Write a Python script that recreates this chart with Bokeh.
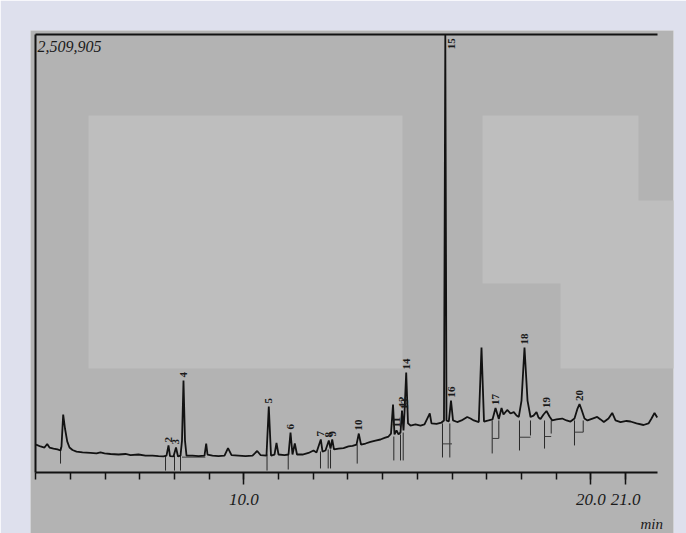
import math
from bokeh.plotting import figure
from bokeh.models import LinearAxis, FixedTicker, Label, Range1d, ColumnDataSource
from bokeh.core.properties import value
from bokeh.embed import file_html
from bokeh.resources import INLINE

# ---------------- data ----------------
FULL_SCALE = 2509905

time_min = [4.012, 4.141, 4.256, 4.334, 4.401, 4.516, 4.631, 4.718, 4.746, 4.795, 4.847, 4.911,
            4.977, 5.063, 5.179, 5.352, 5.582, 5.755, 5.870, 5.986, 6.159, 6.389, 6.591, 6.735,
            6.965, 7.167, 7.369, 7.542, 7.686, 7.772, 7.830, 7.873, 7.974, 8.046, 8.104, 8.176,
            8.219, 8.262, 8.305, 8.349, 8.522, 8.695, 8.867, 8.916, 8.954, 9.098, 9.271, 9.444,
            9.545, 9.646, 9.847, 10.049, 10.251, 10.386, 10.481, 10.654, 10.720, 10.784, 10.885,
            10.942, 11.000, 11.173, 11.288, 11.346, 11.403, 11.470, 11.533, 11.692, 11.865, 12.009,
            12.095, 12.219, 12.268, 12.354, 12.450, 12.499, 12.548, 12.599, 12.729, 12.873, 13.017,
            13.133, 13.248, 13.314, 13.378, 13.507, 13.651, 13.795, 13.939, 14.055, 14.170, 14.242,
            14.300, 14.343, 14.401, 14.458, 14.516, 14.559, 14.602, 14.631, 14.680, 14.732, 14.804,
            14.948, 15.092, 15.207, 15.360, 15.409, 15.553, 15.697, 15.769, 15.807, 15.841, 15.908,
            15.971, 16.029, 16.150, 16.274, 16.438, 16.533, 16.628, 16.772, 16.850, 16.922, 17.052,
            17.167, 17.254, 17.349, 17.427, 17.484, 17.591, 17.686, 17.781, 17.859, 17.925, 18.003,
            18.089, 18.176, 18.262, 18.349, 18.435, 18.493, 18.550, 18.637, 18.723, 18.810, 18.888,
            19.012, 19.176, 19.300, 19.415, 19.530, 19.617, 19.674, 19.732, 19.818, 19.905, 20.049,
            20.184, 20.280, 20.375, 20.510, 20.617, 20.712, 20.856, 21.029, 21.144, 21.317, 21.519,
            21.663, 21.749, 21.836, 21.914]

intensity = [160000, 149000, 143000, 163000, 143000, 137000, 132000, 126000, 149000, 332000, 252000, 178000,
             143000, 129000, 120000, 115000, 112000, 109000, 115000, 109000, 106000, 103000, 106000, 100000,
             103000, 97000, 97000, 94000, 92000, 97000, 155000, 94000, 92000, 143000, 92000, 97000,
             183000, 527000, 183000, 97000, 97000, 94000, 97000, 166000, 103000, 97000, 94000, 97000,
             140000, 100000, 97000, 94000, 97000, 123000, 100000, 97000, 378000, 97000, 103000,
             169000, 103000, 100000, 103000, 229000, 103000, 166000, 103000, 103000, 112000, 126000,
             115000, 189000, 120000, 126000, 183000, 137000, 189000, 132000, 137000, 140000, 149000,
             152000, 160000, 223000, 160000, 166000, 175000, 183000, 189000, 198000, 206000, 223000,
             389000, 218000, 241000, 218000, 229000, 355000, 241000, 344000, 573000, 281000, 269000,
             275000, 269000, 275000, 338000, 281000, 278000, 286000, 298000, 2509905, 298000, 292000,
             412000, 298000, 289000, 298000, 318000, 309000, 298000, 289000, 716000, 292000, 298000,
             304000, 369000, 306000, 369000, 332000, 358000, 338000, 346000, 326000, 318000, 412000,
             716000, 412000, 318000, 326000, 346000, 315000, 306000, 332000, 352000, 321000, 298000,
             304000, 309000, 298000, 292000, 309000, 366000, 392000, 361000, 309000, 298000, 309000,
             318000, 304000, 289000, 309000, 341000, 298000, 289000, 295000, 292000, 281000, 272000,
             281000, 309000, 341000, 315000]

peak_ids = ["2", "3", "4", "5", "6", "7", "8", "9", "10", "11", "12", "13", "14",
            "16", "17", "18", "19", "20"]
peak_time = [7.830, 8.046, 8.262, 10.720, 11.346, 12.219, 12.450, 12.548, 13.314, 14.401,
             14.559, 14.631, 14.680, 15.971, 17.254, 18.089, 18.723, 19.674]
peak_top = [155000, 143000, 527000, 378000, 229000, 189000, 183000, 189000, 223000, 241000,
            355000, 344000, 573000, 412000, 369000, 716000, 352000, 392000]
main_peak_id = "15"
main_peak_time = 15.807

# integration event markers (time, top, bottom)
mark_time = [4.718, 7.744, 8.003, 8.176, 10.669, 11.280, 12.210, 12.432, 12.499, 13.268, 14.323,
             14.516, 14.594, 15.726, 15.937, 17.158, 17.349, 17.945, 18.262, 18.666, 18.859,
             19.530, 19.781]
mark_top = [143000, 97000, 97000, 97000, 103000, 103000, 120000, 132000, 132000, 160000, 206000,
            218000, 229000, 281000, 281000, 298000, 298000, 298000, 298000, 298000, 298000,
            298000, 298000]
mark_bottom = [51000, 11000, 11000, 11000, 11000, 17000, 23000, 23000, 23000, 51000, 69000,
               69000, 69000, 86000, 86000, 109000, 195000, 126000, 212000, 137000, 223000,
               155000, 231000]
base_start = [8.219, 15.726, 17.158, 17.945, 18.666, 19.530]
base_end = [8.892, 16.000, 17.349, 18.262, 18.859, 19.781]
base_level = [88000, 164000, 195000, 202000, 206000, 231000]

x_ticks = [10.0, 20.0, 21.0]
x_tick_labels = ["10.0", "20.0", "21.0"]
x_minor_ticks = list(range(4, 22))
x_start, x_end = 4.0, 21.92

# light patches of the scanned background (time, intensity)
shade_left = [5.524, 16.879, 19.127]
shade_right = [14.573, 21.375, 23.0]
shade_bottom = [595600, 1082000, 595600]
shade_top = [2044500, 2044500, 1557700]

# ---------------- figure ----------------
INK = "#121212"
p = figure(width=686, height=533, output_backend="svg", toolbar_location=None,
           x_range=Range1d(3.853, 22.383), y_range=Range1d(-349317, 2531093),
           x_axis_type=None, y_axis_type=None,
           min_border_left=30, min_border_right=13, min_border_top=30, min_border_bottom=0)
p.background_fill_color = "#b3b3b3"
p.border_fill_color = "#dee0ed"
p.outline_line_color = None
p.grid.visible = False

p.quad(left=shade_left, right=shade_right, bottom=shade_bottom, top=shade_top,
       fill_color="#bebebe", line_color=None, level="underlay")

# axes drawn at fixed positions inside the frame
xax = LinearAxis(fixed_location=0, bounds=(x_start, x_end),
                 ticker=FixedTicker(ticks=x_ticks, minor_ticks=x_minor_ticks),
                 major_label_overrides={t: s for t, s in zip(x_ticks, x_tick_labels)})
xax.axis_line_color = INK
xax.axis_line_width = 2
xax.major_tick_line_color = INK
xax.major_tick_line_width = 1.5
xax.major_tick_out = 12
xax.major_tick_in = 0
xax.minor_tick_line_color = INK
xax.minor_tick_line_width = 1.5
xax.minor_tick_out = 7
xax.minor_tick_in = 0
xax.major_label_standoff = 10
xax.major_label_text_font = "Liberation Serif"
xax.major_label_text_font_style = "italic"
xax.major_label_text_font_size = "17px"
xax.major_label_text_color = "#1a1a1a"
p.add_layout(xax, "below")

top_ax = LinearAxis(fixed_location=FULL_SCALE, bounds=(x_start, x_end),
                    ticker=FixedTicker(ticks=[]), major_label_text_font_size="0px")
top_ax.axis_line_color = INK
top_ax.axis_line_width = 2
p.add_layout(top_ax, "above")

yax = LinearAxis(fixed_location=x_start, bounds=(0, FULL_SCALE),
                 ticker=FixedTicker(ticks=[]), major_label_text_font_size="0px")
yax.axis_line_color = INK
yax.axis_line_width = 2
p.add_layout(yax, "left")

# integration markers
p.segment(x0=mark_time, y0=mark_top, x1=mark_time, y1=mark_bottom, line_color="#2a2a2a", line_width=1)
p.segment(x0=base_start, y0=base_level, x1=base_end, y1=base_level, line_color="#3a3a3a", line_width=1)

# chromatogram trace
p.line(time_min, intensity, line_color=INK, line_width=1.8)

# peak numbers
src = ColumnDataSource(dict(x=peak_time, y=peak_top, t=peak_ids))
p.text(x="x", y="y", text="t", source=src, angle=math.pi / 2, text_align="left",
       text_baseline="middle", y_offset=-3, text_font=value("Liberation Serif"),
       text_font_size="11px", text_font_style="bold", text_color="#1a1a1a")
p.text(x=[main_peak_time], y=[FULL_SCALE], text=[main_peak_id], angle=math.pi / 2,
       text_align="right", text_baseline="middle", x_offset=6, y_offset=4,
       text_font=value("Liberation Serif"), text_font_size="11px", text_font_style="bold",
       text_color="#1a1a1a")

p.add_layout(Label(x=x_start, y=FULL_SCALE, text="2,509,905", x_offset=2, y_offset=-7,
                   text_baseline="top", text_font="Liberation Serif", text_font_style="italic",
                   text_font_size="16px", text_color="#1a1a1a"))
p.add_layout(Label(x=21.43, y=0, text="min", y_offset=-44, text_baseline="top",
                   text_font="Liberation Serif", text_font_style="italic",
                   text_font_size="15px", text_color="#1a1a1a"))

open("out.html", "w").write(file_html(p, INLINE))
